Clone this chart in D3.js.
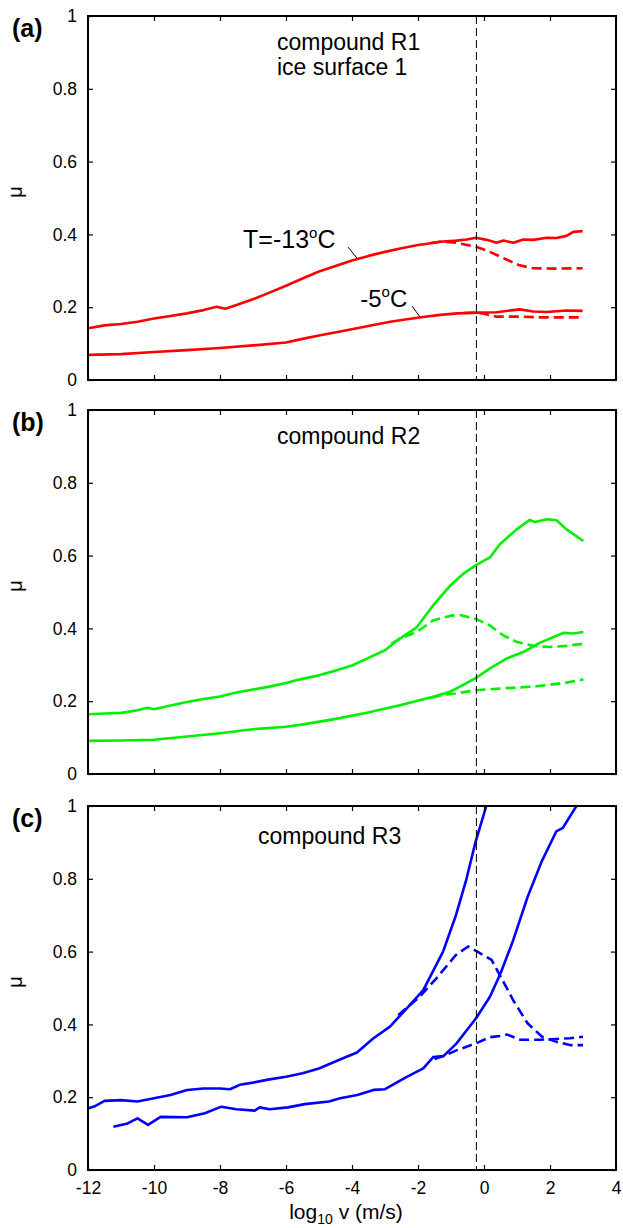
<!DOCTYPE html>
<html>
<head>
<meta charset="utf-8">
<script src="https://cdn.jsdelivr.net/npm/d3@7/dist/d3.min.js"></script>
<style>
  html, body { margin: 0; padding: 0; background: #fff; }
  svg { display: block; }
  text { font-family: "Liberation Sans", Arial, Helvetica, sans-serif; fill: #000; }
</style>
</head>
<body>
<svg id="fig" width="623" height="1228"></svg>
<script>
// ---- axis definitions ----
const xTicks = [-12, -10, -8, -6, -4, -2, 0, 2, 4];
const xTickLabels = ["-12", "-10", "-8", "-6", "-4", "-2", "0", "2", "4"];
const yTicks = [0, 0.2, 0.4, 0.6, 0.8, 1];
const yTickLabels = ["0", "0.2", "0.4", "0.6", "0.8", "1"];
const panelLetters = ["(a)", "(b)", "(c)"];
const panelTitles = [["compound R1", "ice surface 1"], ["compound R2"], ["compound R3"]];
const markerLogV = -0.23;   // vertical reference speed

// ---- friction data: [log10 v, mu] ----
// compound R1, T = -13 C
const r1ColdSolid = [[-12,0.142],[-11.5,0.150],[-11,0.154],[-10.5,0.160],[-10,0.169],[-9.5,0.176],[-9,0.183],[-8.5,0.192],[-8.1,0.201],[-7.84,0.196],[-7.5,0.206],[-7,0.222],[-6.5,0.240],[-6,0.259],[-5.5,0.279],[-5,0.298],[-4.5,0.313],[-4,0.328],[-3.5,0.341],[-3,0.352],[-2.5,0.362],[-2,0.371],[-1.5,0.377],[-1.33,0.380],[-0.83,0.383],[-0.53,0.386],[-0.24,0.391],[0.08,0.385],[0.38,0.377],[0.59,0.383],[0.89,0.377],[1.19,0.386],[1.49,0.385],[1.9,0.391],[2.2,0.390],[2.5,0.396],[2.71,0.407],[2.99,0.409]];
const r1ColdDash = [[-1.6,0.377],[-1.33,0.380],[-0.83,0.377],[-0.24,0.366],[0.18,0.352],[0.68,0.331],[1.08,0.315],[1.49,0.307],[2.2,0.306],[2.99,0.307]];
// compound R1, T = -5 C
const r1WarmSolid = [[-12,0.069],[-11,0.071],[-10,0.077],[-9,0.082],[-8,0.088],[-7,0.095],[-6,0.103],[-5.5,0.113],[-5,0.122],[-4.36,0.133],[-3.85,0.142],[-3.35,0.151],[-2.84,0.160],[-2.34,0.167],[-1.84,0.173],[-1.33,0.179],[-0.8,0.183],[-0.24,0.185],[0.38,0.186],[0.89,0.192],[1.08,0.194],[1.49,0.188],[1.9,0.187],[2.5,0.191],[2.99,0.190]];
const r1WarmDash = [[-0.6,0.184],[-0.24,0.185],[0.0,0.182],[0.38,0.174],[1.19,0.174],[1.7,0.172],[2.2,0.172],[2.99,0.172]];
// compound R2, colder run
const r2ColdSolid = [[-12,0.164],[-11.5,0.166],[-11,0.168],[-10.5,0.175],[-10.2,0.182],[-10,0.178],[-9.5,0.188],[-9,0.198],[-8.5,0.206],[-8,0.213],[-7.5,0.224],[-7,0.232],[-6.5,0.240],[-6,0.250],[-5.58,0.260],[-5,0.271],[-4.57,0.282],[-4,0.298],[-3.55,0.317],[-3,0.340],[-2.55,0.372],[-2.04,0.403],[-1.54,0.463],[-1.03,0.517],[-0.6,0.552],[-0.24,0.574],[0.18,0.595],[0.48,0.631],[0.99,0.672],[1.39,0.698],[1.55,0.692],[1.9,0.700],[2.2,0.697],[2.5,0.672],[3.01,0.640]];
const r2ColdDash = [[-2.8,0.358],[-2.55,0.372],[-2.04,0.390],[-1.54,0.422],[-1.0,0.435],[-0.73,0.437],[-0.24,0.426],[0.18,0.408],[0.58,0.381],[0.99,0.363],[1.5,0.352],[2.0,0.349],[2.5,0.352],[3.01,0.358]];
// compound R2, warmer run
const r2WarmSolid = [[-12,0.091],[-11,0.092],[-10,0.094],[-9,0.103],[-8,0.112],[-7,0.123],[-6,0.130],[-5.58,0.135],[-4.57,0.150],[-3.55,0.168],[-2.55,0.189],[-1.54,0.212],[-1.03,0.226],[-0.73,0.240],[-0.24,0.264],[0.18,0.290],[0.68,0.317],[1.19,0.335],[1.7,0.361],[2.42,0.388],[2.7,0.386],[3.01,0.390]];
const r2WarmDash = [[-1.6,0.210],[-1.2,0.218],[-0.88,0.221],[-0.24,0.230],[0.48,0.235],[1.5,0.240],[2.5,0.251],[3.01,0.260]];
// compound R3, colder run
const r3ColdSolid = [[-12,0.169],[-11.8,0.175],[-11.5,0.190],[-11,0.192],[-10.5,0.188],[-10,0.197],[-9.5,0.206],[-9,0.220],[-8.5,0.224],[-8,0.224],[-7.7,0.222],[-7.4,0.234],[-7,0.240],[-6.5,0.249],[-6,0.256],[-5.5,0.266],[-5,0.279],[-4.4,0.302],[-3.85,0.323],[-3.35,0.362],[-2.85,0.394],[-2.34,0.444],[-1.84,0.494],[-1.24,0.600],[-0.85,0.700],[-0.53,0.800],[-0.26,0.900],[0.07,1.000],[0.15,1.030]];
const r3ColdDash = [[-2.6,0.425],[-2.34,0.446],[-1.95,0.476],[-1.4,0.531],[-0.86,0.590],[-0.48,0.614],[-0.2,0.600],[0.23,0.577],[0.56,0.522],[0.88,0.467],[1.32,0.403],[1.76,0.366],[2.2,0.352],[2.63,0.343],[3.0,0.343]];
// compound R3, warmer run
const r3WarmSolid = [[-11.23,0.119],[-10.8,0.128],[-10.5,0.142],[-10.18,0.124],[-9.8,0.146],[-9,0.145],[-8.46,0.156],[-7.96,0.174],[-7.5,0.167],[-6.95,0.163],[-6.8,0.172],[-6.5,0.167],[-5.94,0.172],[-5.43,0.181],[-4.7,0.188],[-4.36,0.197],[-3.84,0.206],[-3.35,0.220],[-3.0,0.222],[-2.34,0.256],[-1.84,0.279],[-1.54,0.310],[-1.23,0.313],[-0.83,0.348],[-0.24,0.417],[0.18,0.476],[0.5,0.540],[0.88,0.630],[1.32,0.750],[1.76,0.850],[2.19,0.930],[2.39,0.940],[2.8,1.000],[2.9,1.020]];
const r3WarmDash = [[-1.5,0.305],[-1.23,0.313],[-0.8,0.330],[-0.24,0.348],[0.18,0.365],[0.5,0.368],[0.7,0.372],[1.1,0.358],[1.7,0.358],[2.2,0.360],[2.6,0.362],[3.0,0.366]];

const panelColors = ["#ff0000", "#00f000", "#0000ff"];
const panelSeries = [
  [r1ColdSolid, r1ColdDash, r1WarmSolid, r1WarmDash],
  [r2ColdSolid, r2ColdDash, r2WarmSolid, r2WarmDash],
  [r3ColdSolid, r3ColdDash, r3WarmSolid, r3WarmDash]
];

// ---- layout ----
const svg = d3.select("#fig");
const left = 88, right = 616;
const panelTops = [16, 410, 806];
const panelH = 364;
const tickLen = 5;

const x = d3.scaleLinear().domain([-12, 4]).range([left, right]);

panelTops.forEach((top, i) => {
  const y = d3.scaleLinear().domain([0, 1]).range([top + panelH, top]);
  const g = svg.append("g");

  g.append("clipPath").attr("id", "clip" + i)
    .append("rect").attr("x", left).attr("y", top).attr("width", right - left).attr("height", panelH);

  const plot = g.append("g").attr("clip-path", `url(#clip${i})`);

  const line = d3.line().x(d => x(d[0])).y(d => y(d[1]));

  panelSeries[i].forEach((s, k) => {
    plot.append("path")
      .datum(s)
      .attr("d", line)
      .attr("fill", "none")
      .attr("stroke", panelColors[i])
      .attr("stroke-width", 2.6)
      .attr("stroke-linejoin", "round")
      .attr("stroke-dasharray", k % 2 === 1 ? "10,5" : null);
  });

  // vertical reference line
  g.append("line")
    .attr("x1", x(markerLogV)).attr("x2", x(markerLogV))
    .attr("y1", y(1)).attr("y2", y(0))
    .attr("stroke", "#000").attr("stroke-width", 1)
    .attr("stroke-dasharray", "8,4");

  // frame with inward ticks on all four sides
  const axL = d3.axisLeft(y).tickValues(yTicks).tickSize(-tickLen).tickFormat((d, j) => yTickLabels[j]).tickPadding(11);
  const axR = d3.axisRight(y).tickValues(yTicks).tickSize(-tickLen).tickFormat("");
  const axB = d3.axisBottom(x).tickValues(xTicks).tickSize(-tickLen).tickPadding(12)
    .tickFormat((d, j) => i === 2 ? xTickLabels[j] : "");
  const axT = d3.axisTop(x).tickValues(xTicks).tickSize(-tickLen).tickFormat("");

  const styleAxis = sel => {
    sel.select(".domain").remove();
    sel.selectAll(".tick line").attr("stroke", "#000").attr("stroke-width", 1.2);
    sel.selectAll("text").attr("font-size", 17.5).attr("fill", "#000")
      .style("font-family", '"Liberation Sans", Arial, sans-serif');
  };
  g.append("g").attr("transform", `translate(${left},0)`).call(axL).call(styleAxis);
  g.append("g").attr("transform", `translate(${right},0)`).call(axR).call(styleAxis);
  g.append("g").attr("transform", `translate(0,${top + panelH})`).call(axB).call(styleAxis);
  g.append("g").attr("transform", `translate(0,${top})`).call(axT).call(styleAxis);

  g.append("rect")
    .attr("x", left).attr("y", top).attr("width", right - left).attr("height", panelH)
    .attr("fill", "none").attr("stroke", "#000").attr("stroke-width", 2);

  // panel letter
  g.append("text").attr("x", 12).attr("y", top + 21)
    .attr("font-size", 25).attr("font-weight", "bold").text(panelLetters[i]);

  // y label
  g.append("text")
    .attr("transform", `translate(22,${top + panelH / 2 - 6}) rotate(-90)`)
    .attr("text-anchor", "middle").attr("font-size", 20).text("μ");

  // title lines
  const titleX = i === 2 ? 258 : 277;
  const titleY = i === 2 ? top + 38 : top + 34;
  panelTitles[i].forEach((t, j) => {
    g.append("text").attr("x", titleX).attr("y", titleY + j * 25)
      .attr("font-size", 23).text(t);
  });

  if (i === 0) {
    // temperature annotations with leader lines
    const lab1 = g.append("text").attr("x", x(-7.3)).attr("y", y(0.363)).attr("font-size", 25);
    lab1.append("tspan").text("T=-13");
    lab1.append("tspan").attr("font-size", 15).attr("dy", -10).text("o");
    lab1.append("tspan").attr("dy", 10).text("C");
    g.append("line").attr("x1", x(-4.12)).attr("y1", y(0.365)).attr("x2", x(-3.85)).attr("y2", y(0.335))
      .attr("stroke", "#000").attr("stroke-width", 1);

    const lab2 = g.append("text").attr("x", x(-3.75)).attr("y", y(0.201)).attr("font-size", 24);
    lab2.append("tspan").text("-5");
    lab2.append("tspan").attr("font-size", 15).attr("dy", -10).text("o");
    lab2.append("tspan").attr("dy", 10).text("C");
    g.append("line").attr("x1", x(-2.18)).attr("y1", y(0.203)).attr("x2", x(-1.94)).attr("y2", y(0.173))
      .attr("stroke", "#000").attr("stroke-width", 1);
  }
});

// x axis label
const xl = svg.append("text").attr("x", 346).attr("y", 1219)
  .attr("text-anchor", "middle").attr("font-size", 21);
xl.append("tspan").text("log");
xl.append("tspan").attr("font-size", 14).attr("dy", 5).text("10");
xl.append("tspan").attr("dy", -5).text(" v (m/s)");
</script>
</body>
</html>
